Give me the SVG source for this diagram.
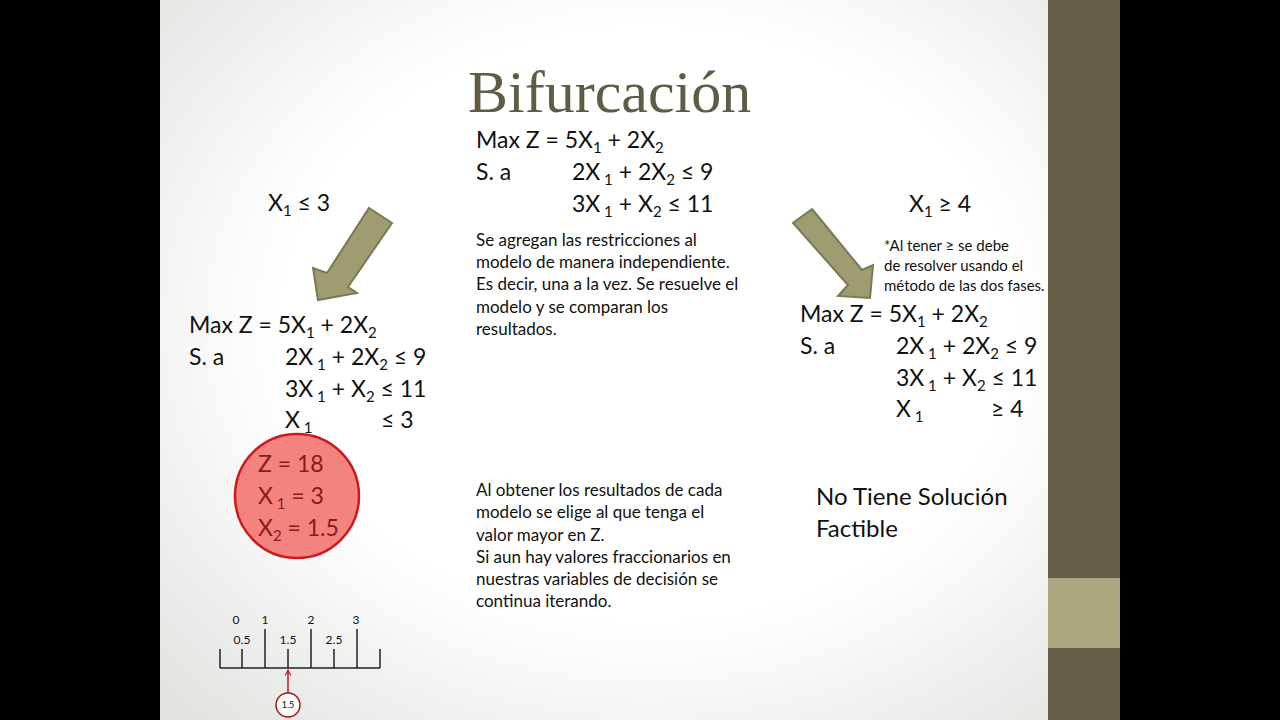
<svg xmlns="http://www.w3.org/2000/svg" width="1280" height="720" viewBox="0 0 1280 720">
<defs>
<radialGradient id="bg" cx="0.55" cy="0.45" r="0.75">
<stop offset="0.55" stop-color="#ffffff"/>
<stop offset="1" stop-color="#e2e4e0"/>
</radialGradient>
<marker id="ah" viewBox="0 0 10 10" refX="9" refY="5" markerWidth="7" markerHeight="7" orient="auto" markerUnits="userSpaceOnUse">
<path d="M1,1 L9,5 L1,9" fill="none" stroke="#c0181c" stroke-width="1.5"/>
</marker>
<style>
.t{font-family:Lato,"Open Sans","Liberation Sans",sans-serif;fill:#111;}
.m{font-size:23px;}
.p{font-size:17px;}
.n{font-size:15px;}
.s{font-size:12px;}
.arrow{fill:#9e9c70;stroke:#7b7955;stroke-width:2;stroke-linejoin:miter;}
.tick{stroke:#222;stroke-width:1.5;}
</style>
</defs>
<rect x="0" y="0" width="1280" height="720" fill="#000"/>
<rect x="160" y="0" width="888" height="720" fill="url(#bg)"/>
<rect x="1048" y="0" width="72" height="720" fill="#655f48"/>
<rect x="1048" y="578" width="72" height="70" fill="#a9a77d"/>

<text x="468" y="112" font-family="'Liberation Serif','DejaVu Serif',serif" font-size="60" fill="#5f5b44">Bifurcación</text>

<g id="root">
<text class="t m" x="476" y="148">Max Z = 5X<tspan dy="5" font-size="15">1</tspan><tspan dy="-5"> + 2X</tspan><tspan dy="5" font-size="15">2</tspan></text>
<text class="t m" x="476" y="180">S. a</text>
<text class="t m" x="572" y="180">2X<tspan dy="5" font-size="15"> 1</tspan><tspan dy="-5"> + 2X</tspan><tspan dy="5" font-size="15">2</tspan><tspan dy="-5"> ≤ 9</tspan></text>
<text class="t m" x="572" y="212">3X<tspan dy="5" font-size="15"> 1</tspan><tspan dy="-5"> + X</tspan><tspan dy="5" font-size="15">2</tspan><tspan dy="-5"> ≤ 11</tspan></text>
</g>

<g id="note-center">
<text class="t p" x="476" y="246">Se agregan las restricciones al</text>
<text class="t p" x="476" y="268">modelo de manera independiente.</text>
<text class="t p" x="476" y="290">Es decir, una a la vez. Se resuelve el</text>
<text class="t p" x="476" y="313">modelo y se comparan los</text>
<text class="t p" x="476" y="335">resultados.</text>
</g>

<g id="connectors">
<polygon class="arrow" points="369,208 392,223 348,287 357,293 318,300 313,268 327,273"/>
<polygon class="arrow" points="812,209 862,270 873,265 870,298 838,296 848,285 793,223"/>
<line x1="288" y1="693" x2="288" y2="670" stroke="#c0181c" stroke-width="1.5" marker-end="url(#ah)"/>
</g>

<g id="label-left">
<text class="t m" x="268" y="211">X<tspan dy="5" font-size="15">1</tspan><tspan dy="-5"> ≤ 3</tspan></text>
</g>

<g id="label-right">
<text class="t m" x="909" y="212">X<tspan dy="5" font-size="15">1</tspan><tspan dy="-5"> ≥ 4</tspan></text>
<text class="t n" x="884" y="251">*Al tener ≥ se debe</text>
<text class="t n" x="884" y="271">de resolver usando el</text>
<text class="t n" x="884" y="291">método de las dos fases.</text>
</g>

<g id="model-left">
<text class="t m" x="189" y="333">Max Z = 5X<tspan dy="5" font-size="15">1</tspan><tspan dy="-5"> + 2X</tspan><tspan dy="5" font-size="15">2</tspan></text>
<text class="t m" x="189" y="365">S. a</text>
<text class="t m" x="285" y="365">2X<tspan dy="5" font-size="15"> 1</tspan><tspan dy="-5"> + 2X</tspan><tspan dy="5" font-size="15">2</tspan><tspan dy="-5"> ≤ 9</tspan></text>
<text class="t m" x="285" y="397">3X<tspan dy="5" font-size="15"> 1</tspan><tspan dy="-5"> + X</tspan><tspan dy="5" font-size="15">2</tspan><tspan dy="-5"> ≤ 11</tspan></text>
<text class="t m" x="285" y="428">X<tspan dy="5" font-size="15"> 1</tspan></text>
<text class="t m" x="381" y="428">≤ 3</text>
</g>

<g id="result-left">
<circle cx="297" cy="496" r="62" fill="#f4827f" stroke="#cc1a1a" stroke-width="2.5"/>
<text class="t m" x="258" y="472" style="fill:#8b1a1a">Z = 18</text>
<text class="t m" x="258" y="504" style="fill:#8b1a1a">X<tspan dy="5" font-size="15"> 1</tspan><tspan dy="-5"> = 3</tspan></text>
<text class="t m" x="258" y="536" style="fill:#8b1a1a">X<tspan dy="5" font-size="15">2</tspan><tspan dy="-5"> = 1.5</tspan></text>
</g>

<g id="model-right">
<text class="t m" x="800" y="322">Max Z = 5X<tspan dy="5" font-size="15">1</tspan><tspan dy="-5"> + 2X</tspan><tspan dy="5" font-size="15">2</tspan></text>
<text class="t m" x="800" y="354">S. a</text>
<text class="t m" x="896" y="354">2X<tspan dy="5" font-size="15"> 1</tspan><tspan dy="-5"> + 2X</tspan><tspan dy="5" font-size="15">2</tspan><tspan dy="-5"> ≤ 9</tspan></text>
<text class="t m" x="896" y="386">3X<tspan dy="5" font-size="15"> 1</tspan><tspan dy="-5"> + X</tspan><tspan dy="5" font-size="15">2</tspan><tspan dy="-5"> ≤ 11</tspan></text>
<text class="t m" x="896" y="417">X<tspan dy="5" font-size="15"> 1</tspan></text>
<text class="t m" x="991" y="417">≥ 4</text>
</g>

<g id="result-right">
<text class="t" x="816" y="505" font-size="24">No Tiene Solución</text>
<text class="t" x="816" y="537" font-size="24">Factible</text>
</g>

<g id="note-bottom">
<text class="t p" x="476" y="496">Al obtener los resultados de cada</text>
<text class="t p" x="476" y="518">modelo se elige al que tenga el</text>
<text class="t p" x="476" y="541">valor mayor en Z.</text>
<text class="t p" x="476" y="563">Si aun hay valores fraccionarios en</text>
<text class="t p" x="476" y="585">nuestras variables de decisión se</text>
<text class="t p" x="476" y="607">continua iterando.</text>
</g>

<g id="number-line">
<line class="tick" x1="220" y1="668" x2="380" y2="668"/>
<line class="tick" x1="220" y1="649" x2="220" y2="668"/>
<line class="tick" x1="242" y1="649" x2="242" y2="668"/>
<line class="tick" x1="265" y1="629" x2="265" y2="668"/>
<line class="tick" x1="288" y1="649" x2="288" y2="668"/>
<line class="tick" x1="311" y1="629" x2="311" y2="668"/>
<line class="tick" x1="334" y1="649" x2="334" y2="668"/>
<line class="tick" x1="357" y1="629" x2="357" y2="668"/>
<line class="tick" x1="380" y1="649" x2="380" y2="668"/>
<text class="t s" x="236" y="624" text-anchor="middle">0</text>
<text class="t s" x="265" y="624" text-anchor="middle">1</text>
<text class="t s" x="311" y="624" text-anchor="middle">2</text>
<text class="t s" x="356" y="624" text-anchor="middle">3</text>
<text class="t s" x="242" y="644" text-anchor="middle">0.5</text>
<text class="t s" x="288" y="644" text-anchor="middle">1.5</text>
<text class="t s" x="334" y="644" text-anchor="middle">2.5</text>
</g>

<g id="value-marker">
<circle cx="288" cy="705" r="12" fill="#fff" stroke="#b01010" stroke-width="1.5"/>
<text class="t" x="288" y="708" font-size="9" text-anchor="middle">1.5</text>
</g>
</svg>
